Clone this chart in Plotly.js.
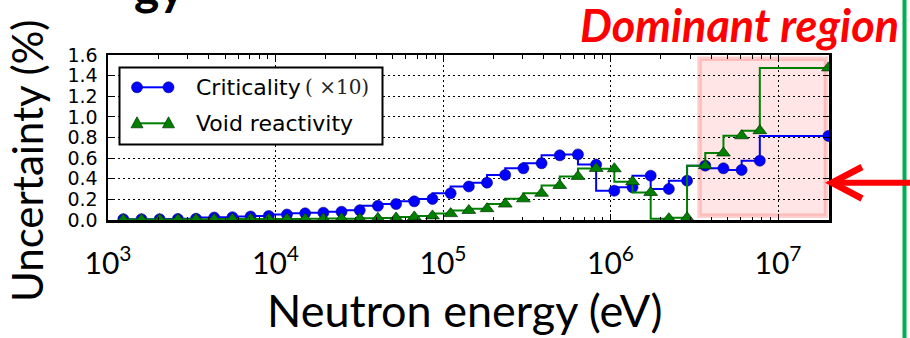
<!DOCTYPE html>
<html>
<head>
<meta charset="utf-8">
<script src="https://cdn.plot.ly/plotly-3.0.1.min.js"></script>
<style>html,body{margin:0;padding:0;background:#fff;}#chart{width:910px;height:338px;}</style>
</head>
<body>
<div id="chart"></div>
<script>
// Energy points (eV), ascending
const energy = [1234.1, 1584.6, 2034.7, 2612.6, 3354.6, 4307.4, 5530.8, 7101.7, 9118.8,
  11709, 15034, 19305, 24788, 31828, 40868, 52475, 67379, 86517, 111090, 142640,
  183160, 235180, 301970, 387740, 497870, 639280, 820850, 1054000, 1353400, 1737700,
  2231300, 2865000, 3678800, 4723700, 6065300, 7788000, 20000000];
// Criticality uncertainty (%) x10
const criticality = [0.008, 0.008, 0.008, 0.010, 0.013, 0.024, 0.027, 0.034, 0.039,
  0.053, 0.065, 0.071, 0.080, 0.094, 0.137, 0.155, 0.181, 0.204, 0.259, 0.325,
  0.362, 0.437, 0.501, 0.550, 0.627, 0.636, 0.537, 0.284, 0.317, 0.430,
  0.301, 0.381, 0.527, 0.501, 0.485, 0.575, 0.815];
// Void reactivity uncertainty (%)
const voidReactivity = [0.004, 0.004, 0.004, 0.005, 0.008, 0.008, 0.009, 0.009, 0.010,
  0.010, 0.010, 0.012, 0.014, 0.012, 0.016, 0.020, 0.030, 0.040, 0.062, 0.093,
  0.110, 0.155, 0.205, 0.259, 0.335, 0.423, 0.500, 0.497, 0.371, 0.267,
  0.013, 0.022, 0.527, 0.650, 0.817, 0.866, 1.475];
const xTickVals = [1e3, 1e4, 1e5, 1e6, 1e7];
const xTickText = ['10<sup>3</sup>', '10<sup>4</sup>', '10<sup>5</sup>', '10<sup>6</sup>', '10<sup>7</sup>'];
const yTickVals = [0, 0.2, 0.4, 0.6, 0.8, 1.0, 1.2, 1.4, 1.6];
const seriesNames = ['Criticality', 'Void reactivity'];

// plot area in pixels
const L = 108, R = 829, T = 55, B = 220;
const px = v => (v - L) / (R - L);
const py = v => (B - v) / (B - T);

const blue = '#0000ff', green = '#008000';

const traces = [
  {x: energy, y: criticality, mode: 'lines+markers', name: seriesNames[0], showlegend: false,
   line: {shape: 'vh', color: blue, width: 2},
   marker: {symbol: 'circle', size: 11, color: blue, line: {color: '#00007a', width: 0.6}}},
  {x: energy, y: voidReactivity, mode: 'lines+markers', name: seriesNames[1], showlegend: false,
   line: {shape: 'vh', color: green, width: 2},
   marker: {symbol: 'triangle-up', size: 12, color: green, line: {color: '#003000', width: 0.7}}}
];

const shapes = [
  // dominant region box
  {type: 'rect', xref: 'paper', yref: 'paper', layer: 'between',
   x0: px(699.5), x1: px(826), y0: py(215.7), y1: py(58.7),
   fillcolor: 'rgba(255,0,0,0.1)', line: {color: 'rgba(255,60,60,0.25)', width: 4.5}},
  // legend box
  {type: 'rect', xref: 'paper', yref: 'paper', layer: 'above',
   x0: px(119.5), x1: px(382.5), y0: py(144.5), y1: py(67.5),
   fillcolor: '#ffffff', line: {color: '#000', width: 2}},
  {type: 'line', xref: 'paper', yref: 'paper', x0: px(137), x1: px(168.5), y0: py(87.3), y1: py(87.3),
   line: {color: blue, width: 2}},
  {type: 'line', xref: 'paper', yref: 'paper', x0: px(137), x1: px(168.5), y0: py(123.3), y1: py(123.3),
   line: {color: green, width: 2}},
  // green slide line
  {type: 'line', xref: 'paper', yref: 'paper', x0: px(904.5), x1: px(904.5), y0: py(340), y1: py(-2),
   line: {color: '#00b050', width: 4}},
  // red arrow
  {type: 'line', xref: 'paper', yref: 'paper', x0: px(834), x1: px(912), y0: py(182.7), y1: py(182.7),
   line: {color: '#ff0000', width: 6}},
  {type: 'path', xref: 'paper', yref: 'paper',
   path: 'M' + px(862) + ',' + py(167) + ' L' + px(832) + ',' + py(182.7) + ' L' + px(862) + ',' + py(198.5),
   line: {color: '#ff0000', width: 6.5}}
];
// legend markers
[137, 168.5].forEach(xx => {
  shapes.push({type: 'circle', xref: 'paper', yref: 'paper', xsizemode: 'pixel', ysizemode: 'pixel',
    xanchor: px(xx), yanchor: py(87.3), x0: -5.5, x1: 5.5, y0: -5.5, y1: 5.5,
    fillcolor: blue, line: {color: '#00007a', width: 0.6}});
  shapes.push({type: 'path', xref: 'paper', yref: 'paper', xsizemode: 'pixel', ysizemode: 'pixel',
    xanchor: px(xx), yanchor: py(123.3), path: 'M-6,-4.5 L6,-4.5 L0,6.5 Z',
    fillcolor: green, line: {color: '#003000', width: 0.7}});
});

const annotations = [
  {text: seriesNames[0], xref: 'paper', yref: 'paper', x: px(194), y: py(87.3), xanchor: 'left', yanchor: 'middle',
   showarrow: false, font: {family: 'DejaVu Sans', size: 22, color: '#000'}},
  {text: '( ×10)', xref: 'paper', yref: 'paper', x: px(303), y: py(87.3), xanchor: 'left', yanchor: 'middle',
   showarrow: false, font: {family: 'DejaVu Serif', size: 20, color: '#222'}},
  {text: seriesNames[1], xref: 'paper', yref: 'paper', x: px(194), y: py(123.3), xanchor: 'left', yanchor: 'middle',
   showarrow: false, font: {family: 'DejaVu Sans', size: 22, color: '#000'}},
  {text: '<b><i>Dominant region</i></b>', xref: 'paper', yref: 'paper', x: px(578), y: py(25), xanchor: 'left', yanchor: 'middle',
   showarrow: false, font: {family: 'Lato', size: 45, color: '#ff0000'}},
  {text: '<b>gy</b>', xref: 'paper', yref: 'paper', x: px(132), y: py(-14), xanchor: 'left', yanchor: 'middle',
   showarrow: false, font: {family: 'Lato', size: 48, color: '#000'}},
  {text: 'Uncertainty (%)', xref: 'paper', yref: 'paper', x: px(27), y: py(161), xanchor: 'center', yanchor: 'middle',
   textangle: -90, showarrow: false, font: {family: 'Lato', size: 42, color: '#000'}},
  {text: 'Neutron energy (eV)', xref: 'paper', yref: 'paper', x: px(465), y: py(310), xanchor: 'center', yanchor: 'middle',
   showarrow: false, font: {family: 'Lato', size: 45, color: '#000'}}
];

const layout = {
  width: 910, height: 338,
  margin: {l: L, r: 910 - R, t: T, b: 338 - B, pad: 0},
  paper_bgcolor: '#fff', plot_bgcolor: '#fff',
  showlegend: false,
  xaxis: {type: 'log', range: [3, 7.3045], tickvals: xTickVals, ticktext: xTickText,
    ticks: 'inside', ticklen: 6, tickwidth: 1, tickcolor: '#000', mirror: 'ticks',
    showline: true, linecolor: '#000', linewidth: 2.5,
    showgrid: true, gridcolor: '#000', gridwidth: 1, griddash: '2px,3px',
    zeroline: false, ticklabelstandoff: 15,
    tickfont: {family: 'Lato', size: 30, color: '#000'},
    minor: {ticks: 'inside', ticklen: 3.5, tickwidth: 1, tickcolor: '#000', dtick: 'D1', showgrid: false}},
  yaxis: {range: [0, 1.6], tickvals: yTickVals, tickformat: '.1f',
    ticks: 'inside', ticklen: 6, tickwidth: 1, tickcolor: '#000', mirror: 'ticks',
    showline: true, linecolor: '#000', linewidth: 2.5,
    showgrid: true, gridcolor: '#000', gridwidth: 1, griddash: '2px,3px',
    zeroline: false, ticklabelstandoff: 4,
    tickfont: {family: 'DejaVu Sans', size: 19, color: '#000'}},
  shapes: shapes,
  annotations: annotations
};

Plotly.newPlot('chart', traces, layout, {staticPlot: true});
</script>
</body>
</html>
